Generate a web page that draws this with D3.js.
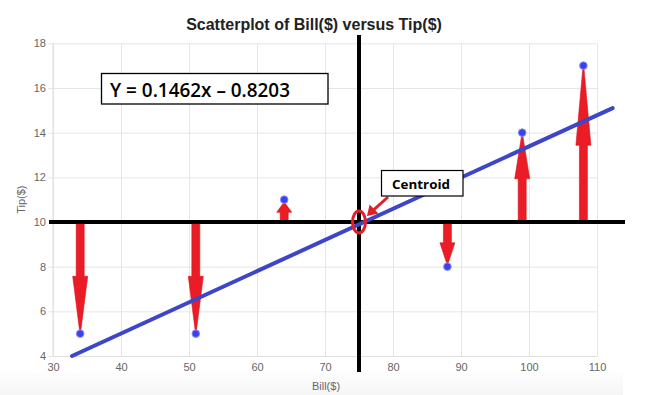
<!DOCTYPE html>
<html lang="en">
<head>
  <meta charset="UTF-8">
  <title>Scatterplot of Bill($) versus Tip($)</title>
  <script src="https://d3js.org/d3.v7.min.js"></script>
  <style>
    body { margin: 0; background: #fff; }
    svg { display: block; }
  </style>
</head>
<body>
  <div id="chart"></div>
  <script>
    // data
    const bills = [34, 51, 64, 88, 99, 108];
    const tips = [5, 5, 11, 8, 14, 17];
    const xTicks = [30, 40, 50, 60, 70, 80, 90, 100, 110];
    const yTicks = [4, 6, 8, 10, 12, 14, 16, 18];
    // drawn fit line end points and centroid mark (as drawn in the picture)
    const fitBills = [32.8, 112.3];
    const fitTips = [4.0, 15.1];
    const centroid = [75, 10];
    const equation = "Y = 0.1462x \u2013 0.8203";

    const width = 647, height = 395;
    const margin = { top: 43.3, right: 50, bottom: 39, left: 53 };

    const svg = d3.select("#chart").append("svg")
      .attr("width", width)
      .attr("height", height);

    // faint grey strip at the bottom of the screenshot
    const grad = svg.append("defs").append("linearGradient")
      .attr("id", "strip").attr("x1", 0).attr("y1", 0).attr("x2", 0).attr("y2", 1);
    grad.append("stop").attr("offset", "0%").attr("stop-color", "#fdfdfd");
    grad.append("stop").attr("offset", "100%").attr("stop-color", "#f6f6f6");
    svg.append("rect")
      .attr("x", 0).attr("y", 372).attr("width", 623).attr("height", 23)
      .attr("fill", "url(#strip)");

    const x = d3.scaleLinear().domain([30, 110]).range([margin.left, width - margin.right]);
    const y = d3.scaleLinear().domain([4, 18]).range([height - margin.bottom, margin.top]);

    // grid
    svg.append("g")
      .attr("transform", `translate(${margin.left},0)`)
      .call(d3.axisLeft(y).tickValues(yTicks).tickSize(-(width - margin.left - margin.right) - 5).tickSizeOuter(0).tickPadding(3))
      .call(g => g.select(".domain").remove())
      .call(g => g.selectAll(".tick line").attr("stroke", "#e6e6e6").attr("x1", -5)
        .attr("x2", width - margin.left - margin.right))
      .call(g => g.selectAll(".tick text").attr("fill", "#666").attr("font-size", 11)
        .attr("font-family", "Liberation Sans, Arial, sans-serif").attr("x", -7));

    svg.append("g")
      .attr("transform", `translate(0,${height - margin.bottom})`)
      .call(d3.axisBottom(x).tickValues(xTicks).tickSize(-(height - margin.top - margin.bottom)).tickSizeOuter(0).tickPadding(7))
      .call(g => g.select(".domain").attr("stroke", "#dedede"))
      .call(g => g.selectAll(".tick line").attr("stroke", "#e6e6e6"))
      .call(g => g.selectAll(".tick text").attr("fill", "#666").attr("font-size", 11)
        .attr("font-family", "Liberation Sans, Arial, sans-serif"));

    svg.append("line")
      .attr("x1", margin.left).attr("x2", margin.left)
      .attr("y1", margin.top).attr("y2", height - margin.bottom)
      .attr("stroke", "#dedede");

    // titles
    svg.append("text")
      .attr("x", 314).attr("y", 30)
      .attr("text-anchor", "middle")
      .attr("font-family", "Liberation Sans, Arial, sans-serif")
      .attr("font-weight", "bold").attr("font-size", 16)
      .attr("fill", "#222")
      .text("Scatterplot of Bill($) versus Tip($)");

    svg.append("text")
      .attr("x", x(70) + 1).attr("y", 390)
      .attr("text-anchor", "middle")
      .attr("font-family", "Liberation Sans, Arial, sans-serif")
      .attr("font-size", 11).attr("fill", "#666")
      .text("Bill($)");

    svg.append("text")
      .attr("transform", `translate(25,${(margin.top + height - margin.bottom) / 2}) rotate(-90)`)
      .attr("text-anchor", "middle")
      .attr("font-family", "Liberation Sans, Arial, sans-serif")
      .attr("font-size", 11).attr("fill", "#666")
      .text("Tip($)");

    // residual arrows from the mean tip to each point
    const meanTip = d3.mean(tips);
    const arrows = svg.append("g");
    bills.forEach((b, i) => {
      const cx = x(b);
      const y0 = y(meanTip);
      const dir = tips[i] > meanTip ? -1 : 1;
      const yTip = y(tips[i]) - dir * 3;
      const len = Math.abs(yTip - y0);
      const headLen = len * 0.5;
      const headW = Math.min(7.5, len * 0.4);
      const shaftW = 4;
      const yBase = y0 + dir * (len - headLen);
      const pts = [
        [cx - shaftW, y0], [cx + shaftW, y0], [cx + shaftW, yBase], [cx + headW, yBase],
        [cx + 0.6, yTip], [cx - 0.6, yTip], [cx - headW, yBase], [cx - shaftW, yBase]
      ];
      arrows.append("path")
        .attr("d", d3.line()(pts) + "Z")
        .attr("fill", "#ea1c25")
        .attr("stroke", "#d9161f")
        .attr("stroke-width", 0.6);
    });

    // mean lines (black)
    svg.append("line")
      .attr("x1", 49).attr("x2", 625)
      .attr("y1", y(meanTip)).attr("y2", y(meanTip))
      .attr("stroke", "#000").attr("stroke-width", 4);
    svg.append("line")
      .attr("x1", x(centroid[0])).attr("x2", x(centroid[0]))
      .attr("y1", 35).attr("y2", 372)
      .attr("stroke", "#000").attr("stroke-width", 4);

    // regression line
    svg.append("line")
      .attr("x1", x(fitBills[0])).attr("y1", y(fitTips[0]))
      .attr("x2", x(fitBills[1])).attr("y2", y(fitTips[1]))
      .attr("stroke", "#3d45c8").attr("stroke-width", 4)
      .attr("stroke-linecap", "round");

    // points
    svg.append("g").selectAll("circle")
      .data(bills)
      .join("circle")
      .attr("cx", d => x(d))
      .attr("cy", (d, i) => y(tips[i]))
      .attr("r", 3.8)
      .attr("fill", "#3b40f0")
      .attr("stroke", "#8a90f6")
      .attr("stroke-width", 1);

    // centroid marker
    svg.append("ellipse")
      .attr("cx", x(centroid[0])).attr("cy", y(centroid[1]))
      .attr("rx", 6.5).attr("ry", 11)
      .attr("fill", "none")
      .attr("stroke", "#e0202a").attr("stroke-width", 3);

    const ax0 = 388, ay0 = 197, ax1 = 368, ay1 = 215;
    svg.append("line")
      .attr("x1", ax0).attr("y1", ay0).attr("x2", ax1 + 4).attr("y2", ay1 - 3.6)
      .attr("stroke", "#e0202a").attr("stroke-width", 3);
    svg.append("path")
      .attr("d", `M${ax1},${ay1} L${ax1 + 2},${ay1 - 9} L${ax1 + 9},${ay1 - 2} Z`)
      .attr("fill", "#e0202a")
      .attr("stroke", "#e0202a").attr("stroke-width", 1.5).attr("stroke-linejoin", "miter");

    svg.append("rect")
      .attr("x", 381.5).attr("y", 170.5).attr("width", 81.5).attr("height", 25.5)
      .attr("fill", "#fff").attr("stroke", "#000").attr("stroke-width", 1.2);
    svg.append("text")
      .attr("x", 392).attr("y", 189)
      .attr("font-family", "Open Sans, sans-serif")
      .attr("font-weight", "bold").attr("font-size", 13)
      .attr("textLength", 58).attr("lengthAdjust", "spacingAndGlyphs")
      .attr("fill", "#000")
      .text("Centroid");

    // equation box
    svg.append("rect")
      .attr("x", 101.5).attr("y", 73.5).attr("width", 226.5).attr("height", 30.5)
      .attr("fill", "#fff").attr("stroke", "#000").attr("stroke-width", 1.3);
    svg.append("text")
      .attr("x", 110).attr("y", 97)
      .attr("font-family", "Open Sans, sans-serif")
      .attr("font-weight", 600).attr("font-size", 19)
      .attr("textLength", 180).attr("lengthAdjust", "spacingAndGlyphs")
      .attr("fill", "#000")
      .text(equation);
  </script>
</body>
</html>
